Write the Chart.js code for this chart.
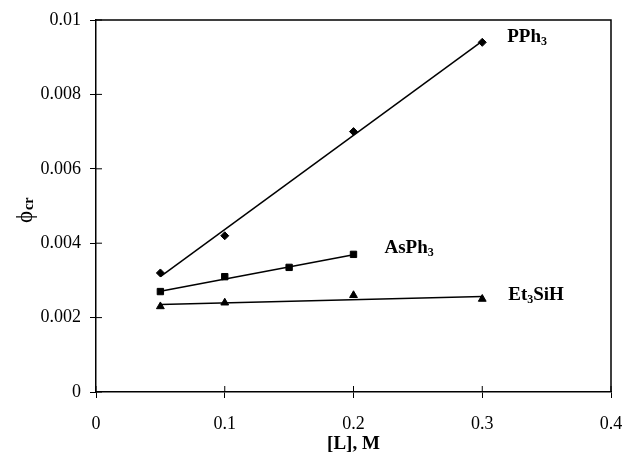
<!DOCTYPE html>
<html>
<head>
<meta charset="utf-8">
<script src="https://cdn.jsdelivr.net/npm/chart.js@4"></script>
<style>
  html, body { margin: 0; padding: 0; background: #fff; }
  #wrap { width: 624px; height: 455px; }
</style>
</head>
<body>
<div id="wrap"><canvas id="c" width="624" height="455"></canvas></div>
<script>
// ---- data ----
const pphX = [0.05, 0.1, 0.2, 0.3];
const pphY = [0.0032, 0.0042, 0.0070, 0.0094];
const asX  = [0.05, 0.1, 0.15, 0.2];
const asY  = [0.0027, 0.0031, 0.00335, 0.0037];
const etX  = [0.05, 0.1, 0.2, 0.3];
const etY  = [0.0023, 0.0024, 0.0026, 0.0025];

// fitted lines (end points)
const pphFitX = [0.05, 0.3];
const pphFitY = [0.0031, 0.00943];
const asFitX  = [0.05, 0.2];
const asFitY  = [0.00271, 0.00369];
const etFitX  = [0.05, 0.3];
const etFitY  = [0.00235, 0.00257];

const xTicks = [0, 0.1, 0.2, 0.3, 0.4];
const xTickLabels = ['0', '0.1', '0.2', '0.3', '0.4'];
const yTicks = [0, 0.002, 0.004, 0.006, 0.008, 0.01];
const yTickLabels = ['0', '0.002', '0.004', '0.006', '0.008', '0.01'];

const seriesNames = [
  [['PPh', false], ['3', true]],
  [['AsPh', false], ['3', true]],
  [['Et', false], ['3', true], ['SiH', false]]
];

const pts = (xs, ys) => xs.map((x, i) => ({ x: x, y: ys[i] }));

const SERIF = '"Liberation Serif", "Times New Roman", serif';

const boxTicksPlugin = {
  id: 'boxTicks',
  afterDraw(chart) {
    const ctx = chart.ctx, a = chart.chartArea;
    const xs = chart.scales.x, ys = chart.scales.y;
    ctx.save();
    ctx.strokeStyle = '#000';
    ctx.lineWidth = 1.5;
    ctx.beginPath();
    ctx.moveTo(a.left, a.top); ctx.lineTo(a.right, a.top);
    ctx.lineTo(a.right, a.bottom);
    ctx.stroke();
    ctx.lineWidth = 1;
    ctx.beginPath();
    xTicks.forEach(v => {
      const p = xs.getPixelForValue(v);
      ctx.moveTo(p, a.bottom); ctx.lineTo(p, a.bottom - 6);
    });
    yTicks.forEach(v => {
      const p = ys.getPixelForValue(v);
      ctx.moveTo(a.left, p); ctx.lineTo(a.left + 6, p);
    });
    ctx.stroke();

    // series labels next to the last point of each series
    const offsets = [[25, -7], [31, -8], [26, -6]];
    ctx.fillStyle = '#000';
    ctx.textBaseline = 'alphabetic';
    ctx.textAlign = 'left';
    [0, 1, 2].forEach(di => {
      const meta = chart.getDatasetMeta(di);
      const last = meta.data[meta.data.length - 1];
      let x = last.x + offsets[di][0];
      const y = last.y + offsets[di][1] + 7;
      seriesNames[di].forEach(([t, sub]) => {
        ctx.font = sub ? 'bold 12px ' + SERIF : 'bold 19px ' + SERIF;
        ctx.fillText(t, x, sub ? y + 3 : y);
        x += ctx.measureText(t).width;
      });
    });

    // y axis title: phi with subscript cr
    ctx.save();
    ctx.translate(32, (a.top + a.bottom) / 2 + 2);
    ctx.rotate(-Math.PI / 2);
    ctx.font = '23px ' + SERIF;
    ctx.fillText('\u03D5', -15, 0);
    const w = ctx.measureText('\u03D5').width;
    ctx.font = 'bold 14px ' + SERIF;
    ctx.fillText('cr', -15 + w + 1, 1);
    ctx.restore();
    ctx.restore();
  }
};

const lineDs = (data) => ({
  data: data, showLine: true, pointRadius: 0, borderColor: '#000',
  borderWidth: 1.5, fill: false, order: 2
});
const markDs = (data, style, r) => ({
  data: data, showLine: false, pointStyle: style, pointRadius: r,
  backgroundColor: '#000', borderColor: '#000', borderWidth: 1, order: 1
});

const zeroPad = s => { s.paddingLeft = 0; s.paddingRight = 0; s.paddingTop = 0; s.paddingBottom = 0; };

new Chart(document.getElementById('c'), {
  type: 'scatter',
  data: {
    datasets: [
      markDs(pts(pphX, pphY), 'rectRot', 4),
      markDs(pts(asX, asY), 'rect', 4.5),
      markDs(pts(etX, etY), 'triangle', 4.5),
      lineDs(pts(pphFitX, pphFitY)),
      lineDs(pts(asFitX, asFitY)),
      lineDs(pts(etFitX, etFitY))
    ]
  },
  options: {
    responsive: false,
    animation: false,
    layout: { padding: { top: 20, right: 13, left: 0, bottom: 0 } },
    plugins: { legend: { display: false }, tooltip: { enabled: false } },
    scales: {
      x: {
        type: 'linear', min: 0, max: 0.4,
        afterBuildTicks: s => { s.ticks = xTicks.map(v => ({ value: v })); },
        afterFit: s => { s.height = 63; zeroPad(s); },
        ticks: {
          callback: (v, i) => xTickLabels[i],
          color: '#000', padding: 15,
          font: { family: SERIF, size: 18 }, maxRotation: 0
        },
        grid: { drawOnChartArea: false, drawTicks: true, tickLength: 6, color: '#000' },
        border: { display: true, color: '#000', width: 1.5 },
        title: {
          display: true, text: '[L], M', color: '#000',
          font: { family: SERIF, size: 19, weight: 'bold' },
          padding: { top: 0, bottom: 0 }
        }
      },
      y: {
        type: 'linear', min: 0, max: 0.01,
        afterBuildTicks: s => { s.ticks = yTicks.map(v => ({ value: v })); },
        afterFit: s => { s.width = 96; zeroPad(s); },
        ticks: {
          callback: (v, i) => yTickLabels[i],
          color: '#000', padding: 9,
          font: { family: SERIF, size: 18 }
        },
        grid: { drawOnChartArea: false, drawTicks: true, tickLength: 6, color: '#000' },
        border: { display: true, color: '#000', width: 1.5 }
      }
    }
  },
  plugins: [boxTicksPlugin]
});
</script>
</body>
</html>
